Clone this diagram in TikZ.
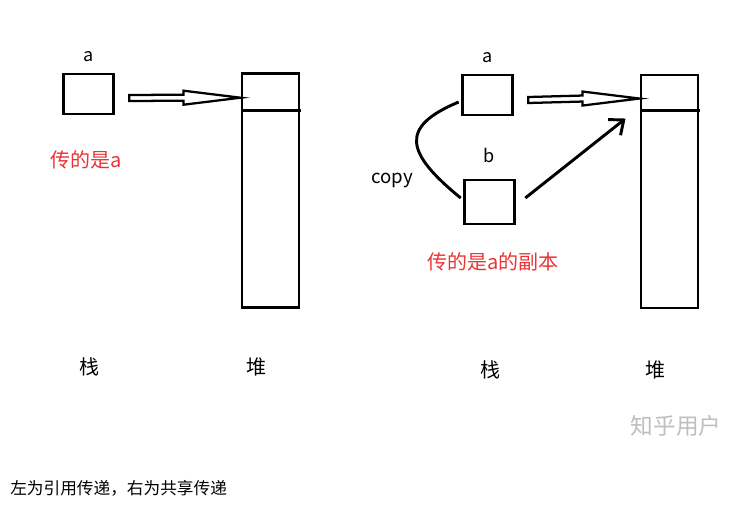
\documentclass[tikz,border=0pt]{standalone}
\usepackage{fontspec}
\setmainfont{Noto Sans CJK SC}
\usetikzlibrary{arrows.meta,positioning,calc}
\definecolor{notered}{RGB}{232,52,52}
\definecolor{markgray}{RGB}{190,190,190}

% hollow "pointer" arrow: #1 start, #2 tip
\newcommand{\hollowarrow}[2]{%
  \draw[hollow] ($(#1)+(0,-3)$) -- ($(#2)+(-57,-3)$) -- ($(#2)+(-57,-7)$) -- (#2)
    -- ($(#2)+(-57,7)$) -- ($(#2)+(-57,3)$) -- ($(#1)+(0,3)$) -- cycle;}

\begin{document}
\begin{tikzpicture}[x=0.75pt,y=-0.75pt,
  cell/.style={rectangle, draw, line width=2.2pt, minimum width=38pt, minimum height=30pt, inner sep=0pt},
  heap/.style={rectangle, draw, line width=2.2pt, minimum width=42.75pt, minimum height=176pt, inner sep=0pt},
  hollow/.style={line width=1.7pt, line join=miter},
  varname/.style={inner sep=0pt, font=\fontsize{13.5}{16}\selectfont},
  note/.style={font=\fontsize{15}{18}\selectfont, text=notered},
  area/.style={font=\fontsize{15}{18}\selectfont},
  arr/.style={-{Straight Barb[length=9pt,width=15pt]}, line width=2.2pt},
  curve/.style={line width=2.2pt}
]
\useasboundingbox (0,0) rectangle (749,508);

% Left: pass by reference
\node[cell] (aL) at (88.5,94) {};
\node[varname, above=8pt of aL] (aLname) {a};
\node[heap] (heapL) at (270.5,190.5) {};
\draw[line width=2.2pt] ($(heapL.north west)+(0,39)$) -- ($(heapL.north east)+(1,39)$);
\coordinate (aLout) at ($(aL.east)+(14,4)$);
\coordinate (heapLin) at ($(heapL.north west)+(0,26)$);
\hollowarrow{aLout}{heapLin}
\node[note] (noteL) at (86,160) {传的是a};
\node[area] (stackL) at (89,367) {栈};
\node[area] (heapLname) at (256,367) {堆};

% Right: pass by sharing
\node[cell] (aR) at (487.5,95) {};
\node[varname, above=8pt of aR] (aRname) {a};
\node[cell, minimum height=33pt] (bR) at (489.5,202) {};
\node[varname, above=12pt of bR] (bRname) {b};
\node[heap, minimum height=174.75pt] (heapR) at (669.5,191.5) {};
\draw[line width=2.2pt] ($(heapR.north west)+(0,37)$) -- ($(heapR.north east)+(1,37)$);
\coordinate (aRout) at ($(aR.east)+(14,5)$);
\coordinate (heapRin) at ($(heapR.north west)+(0,25)$);
\hollowarrow{aRout}{heapRin}
\draw[curve] ([shift={(-2,7)}]aR.west) .. controls +(-60,25) and +(-55,-45) .. ([shift={(-2,-4)}]bR.west);
\node[font=\fontsize{14}{17}\selectfont] (copy) at (392,180) {copy};
\coordinate (bRout) at ($(bR.east)+(9,-4)$);
\coordinate (heapRhit) at ($(heapR.north west)+(-14,45)$);
\draw[arr] (bRout) -- (heapRhit);
\node[note] (noteR) at (493,262) {传的是a的副本};
\node[area] (stackR) at (490,370) {栈};
\node[area] (heapRname) at (655,370) {堆};

% watermark and caption
\node[text=markgray, font=\fontsize{17}{20}\selectfont] (mark) at (676,426) {知乎用户};
\node[anchor=west, inner sep=0pt, font=\fontsize{12.5}{15}\selectfont] (caption) at (10,488) {左为引用传递，右为共享传递};
\end{tikzpicture}
\end{document}
